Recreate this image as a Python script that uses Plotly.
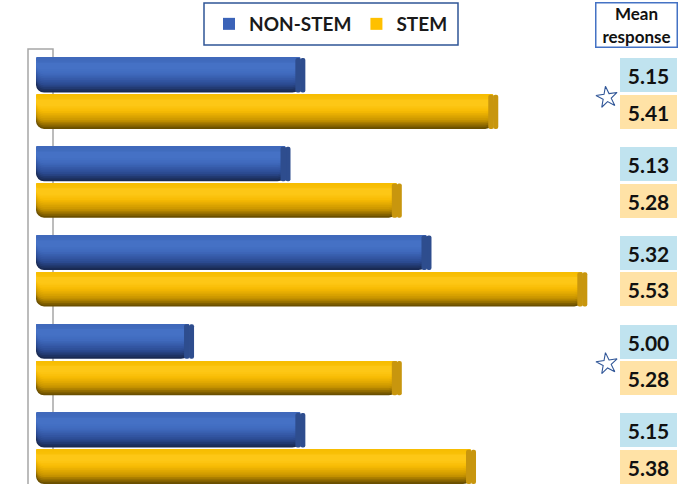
import plotly.graph_objects as go

# ---------------- data ----------------
groups = [0, 1, 2, 3, 4]
non_stem = [5.15, 5.13, 5.32, 5.00, 5.15]
stem = [5.41, 5.28, 5.53, 5.28, 5.38]
significant = [True, False, False, True, False]
series_names = ["NON-STEM", "STEM"]
box_title = "Mean<br>response"

# ---------------- layout constants ----------------
W, H = 690, 484
ML, MT = 36, 49
PW, PH = W - ML, H - MT
PX = 1 / 742.0          # data units per pixel on the value axis
X0 = 4.787
X1 = X0 + PW * PX
Y_RANGE = [4.40, -0.5]
FONT = "Lato"


def px_x(p):
    return (p - ML) / PW


def px_y(p):
    return 1 + (MT - p) / PH


def hex2rgb(h):
    h = h.lstrip("#")
    return [int(h[i:i + 2], 16) for i in (0, 2, 4)]


def shade(stops, t):
    """colour of the cylinder shading profile at depth t (0 top, 1 bottom)"""
    for (t0, c0), (t1, c1) in zip(stops, stops[1:]):
        if t0 <= t <= t1:
            f = 0 if t1 == t0 else (t - t0) / (t1 - t0)
            a, b = hex2rgb(c0), hex2rgb(c1)
            return "rgb(%d,%d,%d)" % tuple(round(a[i] + (b[i] - a[i]) * f) for i in range(3))
    return stops[-1][1]


fig = go.Figure()

CAP = 5 * PX     # half width of the elliptical end cap
HL = 0.28        # highlight position across the cylinder

series = [
    dict(name=series_names[0], vals=non_stem, off=-0.40, wd=0.39,
         stops=[(0.0, "#3F68BA"), (HL, "#4774C8"), (0.5, "#3F69BC"), (0.78, "#2C4C94"), (1.0, "#1A2A52")],
         legend_col="#3B63B8", cap="#2E4D8E", box="#C0E3EF"),
    dict(name=series_names[1], vals=stem, off=0.015, wd=0.385,
         stops=[(0.0, "#F6BC00"), (HL, "#FFCB1C"), (0.5, "#F8BC04"), (0.78, "#C89400"), (1.0, "#6A4F00")],
         legend_col="#FFC000", cap="#C8960E", box="#FFE2A6"),
]

NL = 14
for s in series:
    vals = s["vals"]
    n = len(vals)
    bands = []
    for k in range(NL):
        t1 = 1.0 - (1.0 - HL) * k / NL
        bands.append((0.0, t1, shade(s["stops"], t1)))
    for k in range(4):
        t1 = HL * (1 - k / 4) * 0.5
        bands.append((0.0, max(t1, 0.02), shade(s["stops"], t1 * 0.6)))
    for (t0, t1, col) in bands:
        off = s["off"] + t0 * s["wd"]
        wd = (t1 - t0) * s["wd"]
        # body drawn from the cap back to the axis start, so its left tip is rounded
        fig.add_trace(go.Bar(
            orientation="h", y=groups, x=[X0 - (v - CAP) for v in vals], base=[v - CAP for v in vals],
            offset=off, width=wd, marker=dict(color=col, cornerradius=8, line=dict(width=0)),
            showlegend=False, hoverinfo="skip"))
    # elliptical end cap
    fig.add_trace(go.Bar(
        orientation="h", y=groups, x=[CAP] * n, base=[v - CAP for v in vals],
        offset=s["off"], width=s["wd"],
        marker=dict(color=s["cap"], cornerradius=5, line=dict(width=0)),
        showlegend=False, hoverinfo="skip"))
    fig.add_trace(go.Bar(
        orientation="h", y=groups, x=[-CAP - 0.6 * PX] * n, base=[v - CAP + 0.6 * PX for v in vals],
        offset=s["off"], width=s["wd"],
        marker=dict(color=s["cap"], cornerradius=5, line=dict(width=0)),
        name=s["name"], showlegend=False,
        customdata=vals, hovertemplate="%{customdata:.2f}<extra>" + s["name"] + "</extra>"))

# legend entries (same series, legend swatch only)
for s in series:
    fig.add_trace(go.Bar(
        orientation="h", y=[None], x=[None], name=s["name"],
        marker=dict(color=s["legend_col"], line=dict(width=0)), showlegend=True))

# significance stars
star_y = [g + 0.045 for g, sig in zip(groups, significant) if sig]
fig.add_trace(go.Scatter(
    x=[px_x(607)] * len(star_y), y=star_y, xaxis="x2", mode="markers",
    marker=dict(symbol="star-open", size=16, angle=-8, color="#2F5597",
                line=dict(width=1.1, color="#2F5597")),
    showlegend=False, hoverinfo="skip"))

annotations = []
for s in series:
    centre = s["off"] + s["wd"] / 2
    for g, v in zip(groups, s["vals"]):
        annotations.append(dict(
            x=px_x(648), xref="paper", y=g + centre, yref="y",
            xanchor="center", yanchor="middle",
            text=f"<b>{v:.2f}</b>", showarrow=False, width=57, height=34,
            bgcolor=s["box"], borderpad=0, borderwidth=0,
            font=dict(family=FONT, size=21, color="#111111")))
annotations.append(dict(
    x=px_x(636.5), xref="paper", y=px_y(25), yref="paper",
    xanchor="center", yanchor="middle",
    text=f"<b>{box_title}</b>", showarrow=False, width=80, height=43,
    bgcolor="white", bordercolor="#4472C4", borderwidth=1.5, borderpad=0,
    font=dict(family=FONT, size=17, color="#111111")))

shapes = [
    # 3-D wall edge on the left
    dict(type="path", xref="paper", yref="paper",
         path=f"M {px_x(28)},{px_y(490)} L {px_x(28)},{px_y(49)} L {px_x(53)},{px_y(49)} L {px_x(53)},{px_y(490)}",
         line=dict(color="#A6A6A6", width=1.5), layer="below"),
    # legend frame
    dict(type="rect", xref="paper", yref="paper",
         x0=px_x(204), x1=px_x(458), y0=px_y(45), y1=px_y(3),
         line=dict(color="#2F5597", width=1.5), fillcolor="white", layer="below"),
]

fig.update_layout(
    width=W, height=H,
    margin=dict(l=ML, r=0, t=MT, b=0),
    paper_bgcolor="white", plot_bgcolor="white",
    barmode="overlay",
    xaxis=dict(range=[X0, X1], visible=False, fixedrange=True),
    xaxis2=dict(range=[0, 1], overlaying="x", visible=False, fixedrange=True),
    yaxis=dict(range=Y_RANGE, visible=False, fixedrange=True),
    legend=dict(orientation="h", x=px_x(331), xanchor="center", y=px_y(24), yanchor="middle",
                bgcolor="rgba(0,0,0,0)", borderwidth=0,
                font=dict(family=FONT, size=19, color="#1a1a1a", weight="bold"),
                traceorder="normal", itemwidth=30),
    annotations=annotations,
    shapes=shapes,
    showlegend=True,
)

fig.write_html("out.html")
